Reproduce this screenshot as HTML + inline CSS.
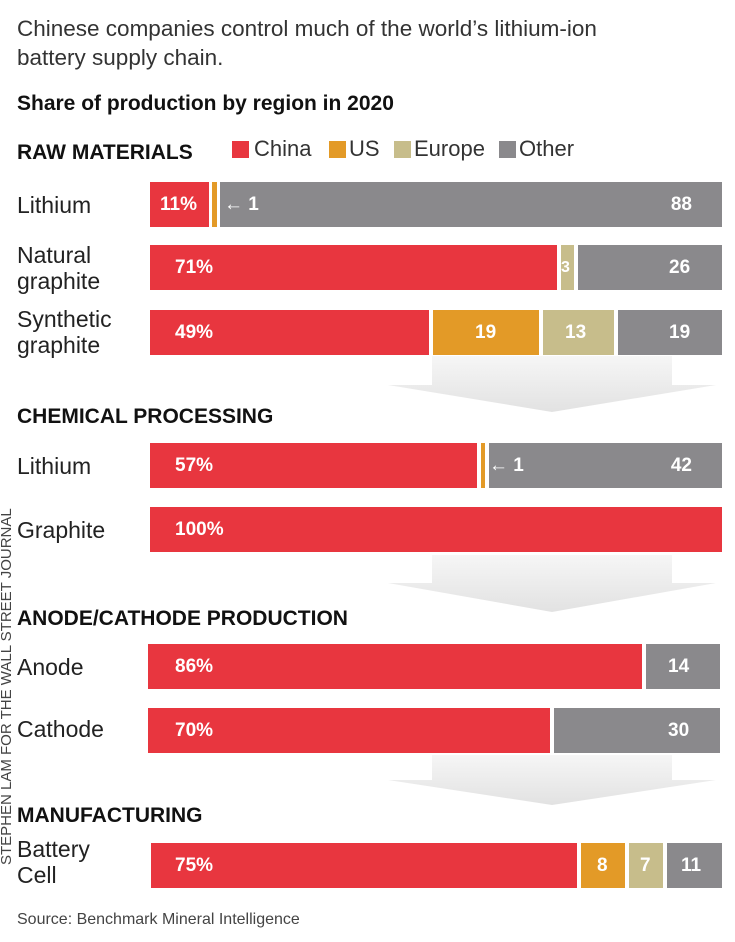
<!DOCTYPE html>
<html><head><meta charset="utf-8"><style>
body{margin:0;width:735px;height:942px;background:#fff;position:relative;overflow:hidden;font-family:"Liberation Sans",sans-serif;color:#222}
.a{position:absolute}
.b{position:absolute;height:45px;color:#fff;font-weight:bold;font-size:19px;line-height:45px;box-sizing:border-box}
.r{background:#e8363f}.o{background:#e39a27}.e{background:#c7bd8b}.g{background:#8a898c}
.lab{position:absolute;left:17px;font-size:23px;line-height:26px;color:#222}
.h{position:absolute;left:17px;font-size:21px;font-weight:bold;color:#111}
.arr{position:absolute}
</style></head><body>
<div class="a" style="left:17px;top:14px;font-size:22.5px;line-height:29px;color:#333">Chinese companies control much of the world’s lithium-ion<br>battery supply chain.</div>
<div class="a" style="left:17px;top:92px;font-size:21px;font-weight:bold;color:#111">Share of production by region in 2020</div>
<div class="h" style="top:141px">RAW MATERIALS</div>
<div class="a" style="left:232px;top:141px;width:17px;height:17px;background:#e8363f"></div><div class="a" style="left:254px;top:136px;font-size:22px;color:#333">China</div>
<div class="a" style="left:329px;top:141px;width:17px;height:17px;background:#e39a27"></div><div class="a" style="left:349px;top:136px;font-size:22px;color:#333">US</div>
<div class="a" style="left:394px;top:141px;width:17px;height:17px;background:#c7bd8b"></div><div class="a" style="left:414px;top:136px;font-size:22px;color:#333">Europe</div>
<div class="a" style="left:499px;top:141px;width:17px;height:17px;background:#8a898c"></div><div class="a" style="left:519px;top:136px;font-size:22px;color:#333">Other</div>

<svg class="arr" style="left:0;top:0" width="735" height="942">
<defs><linearGradient id="gr" x1="0" y1="0" x2="0" y2="1"><stop offset="0" stop-color="#f6f6f6"/><stop offset="1" stop-color="#e2e2e2"/></linearGradient></defs>
<polygon points="432,356 672,356 672,385 716,385 552,412 388,385 432,385" fill="url(#gr)"/>
<polygon points="432,555 672,555 672,583 716,583 552,612 388,583 432,583" fill="url(#gr)"/>
<polygon points="432,755 672,755 672,780 716,780 552,805 388,780 432,780" fill="url(#gr)"/>
</svg>

<div class="lab" style="top:192px">Lithium</div>
<div class="b r" style="left:150px;top:182px;width:59px;padding-left:10px">11%</div>
<div class="b o" style="left:212px;top:182px;width:5px"></div>
<div class="b g" style="left:220px;top:182px;width:502px;padding-left:4px">← 1<span style="position:absolute;right:30px">88</span></div>

<div class="lab" style="top:242px">Natural<br>graphite</div>
<div class="b r" style="left:150px;top:245px;width:407px;padding-left:25px">71%</div>
<div class="b e" style="left:561px;top:245px;width:13px;font-size:16px">3</div>
<div class="b g" style="left:578px;top:245px;width:144px;padding-left:91px">26</div>

<div class="lab" style="top:306px">Synthetic<br>graphite</div>
<div class="b r" style="left:150px;top:310px;width:279px;padding-left:25px">49%</div>
<div class="b o" style="left:433px;top:310px;width:106px;padding-left:42px">19</div>
<div class="b e" style="left:543px;top:310px;width:71px;padding-left:22px">13</div>
<div class="b g" style="left:618px;top:310px;width:104px;padding-left:51px">19</div>

<div class="h" style="top:405px">CHEMICAL PROCESSING</div>
<div class="lab" style="top:453px">Lithium</div>
<div class="b r" style="left:150px;top:443px;width:327px;padding-left:25px">57%</div>
<div class="b o" style="left:481px;top:443px;width:4px"></div>
<div class="b g" style="left:489px;top:443px;width:233px;padding-left:0">← 1<span style="position:absolute;right:30px">42</span></div>
<div class="lab" style="top:517px">Graphite</div>
<div class="b r" style="left:150px;top:507px;width:572px;padding-left:25px">100%</div>

<div class="h" style="top:607px">ANODE/CATHODE PRODUCTION</div>
<div class="lab" style="top:654px">Anode</div>
<div class="b r" style="left:148px;top:644px;width:494px;padding-left:27px">86%</div>
<div class="b g" style="left:646px;top:644px;width:74px;padding-left:22px">14</div>
<div class="lab" style="top:716px">Cathode</div>
<div class="b r" style="left:148px;top:708px;width:402px;padding-left:27px">70%</div>
<div class="b g" style="left:554px;top:708px;width:166px;padding-left:114px">30</div>

<div class="h" style="top:804px">MANUFACTURING</div>
<div class="lab" style="top:836px">Battery<br>Cell</div>
<div class="b r" style="left:151px;top:843px;width:426px;padding-left:24px">75%</div>
<div class="b o" style="left:581px;top:843px;width:44px;padding-left:16px">8</div>
<div class="b e" style="left:629px;top:843px;width:34px;padding-left:11px">7</div>
<div class="b g" style="left:667px;top:843px;width:55px;padding-left:14px">11</div>

<div class="a" style="left:17px;top:911px;font-size:16px;color:#444">Source: Benchmark Mineral Intelligence</div>
<div class="a" style="left:-168px;top:683px;width:350px;transform:rotate(-90deg);font-size:15px;color:#444;white-space:nowrap;text-align:center;line-height:14px">STEPHEN LAM FOR THE WALL STREET JOURNAL</div>
</body></html>
